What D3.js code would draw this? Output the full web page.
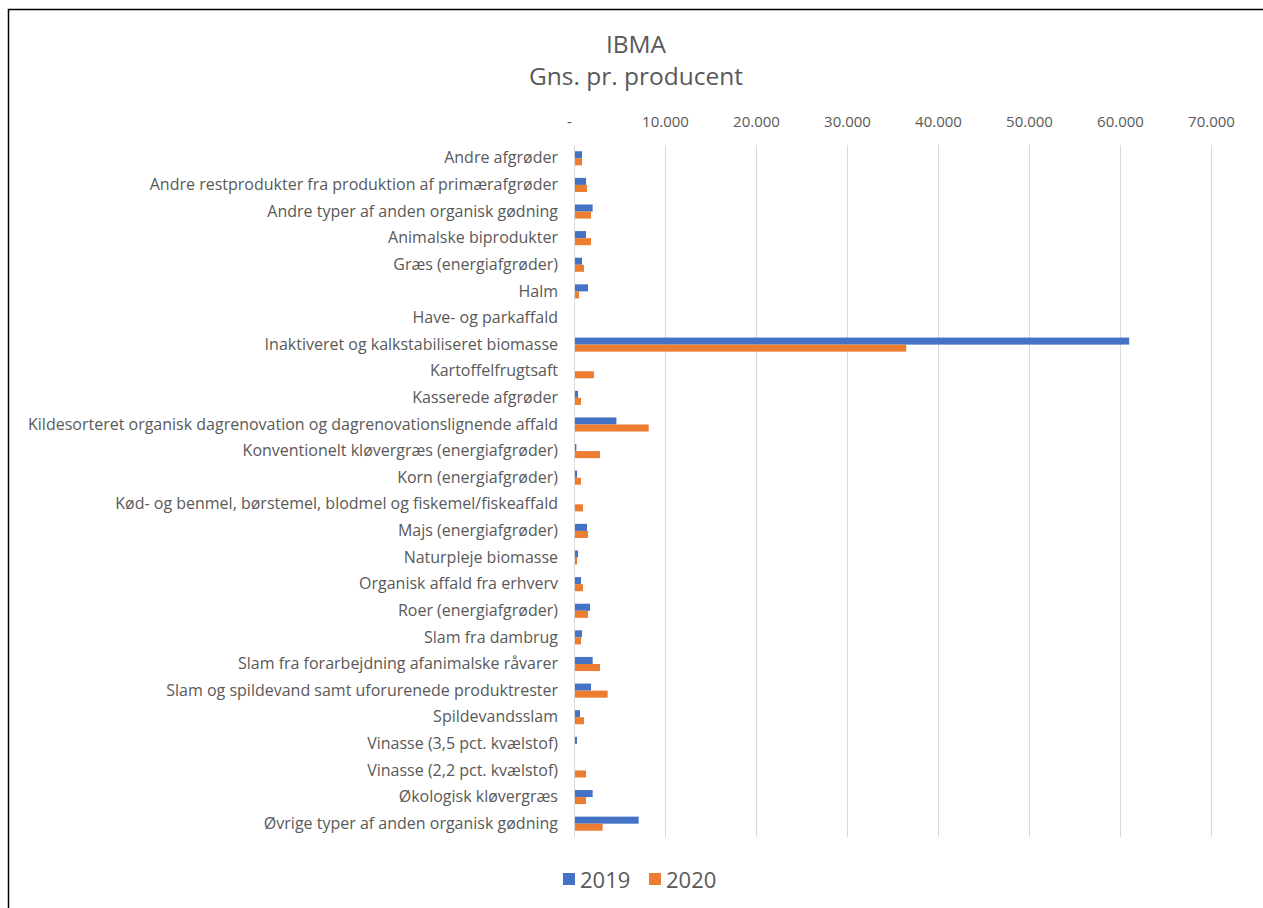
<!DOCTYPE html>
<html>
<head>
<meta charset="utf-8">
<script src="https://cdn.jsdelivr.net/npm/d3@7"></script>
<style>
body { margin: 0; background: #fff; }
text { font-family: "Open Sans", sans-serif; fill: #595959; }
</style>
</head>
<body>
<svg id="chart" width="1263" height="908"></svg>
<script>
// categories, top to bottom
var categories = [
	"Andre afgrøder",
	"Andre restprodukter fra produktion af primærafgrøder",
	"Andre typer af anden organisk gødning",
	"Animalske biprodukter",
	"Græs (energiafgrøder)",
	"Halm",
	"Have- og parkaffald",
	"Inaktiveret og kalkstabiliseret biomasse",
	"Kartoffelfrugtsaft",
	"Kasserede afgrøder",
	"Kildesorteret organisk dagrenovation og dagrenovationslignende affald",
	"Konventionelt kløvergræs (energiafgrøder)",
	"Korn (energiafgrøder)",
	"Kød- og benmel, børstemel, blodmel og fiskemel/fiskeaffald",
	"Majs (energiafgrøder)",
	"Naturpleje biomasse",
	"Organisk affald fra erhverv",
	"Roer (energiafgrøder)",
	"Slam fra dambrug",
	"Slam fra forarbejdning afanimalske råvarer",
	"Slam og spildevand samt uforurenede produktrester",
	"Spildevandsslam",
	"Vinasse (3,5 pct. kvælstof)",
	"Vinasse (2,2 pct. kvælstof)",
	"Økologisk kløvergræs",
	"Øvrige typer af anden organisk gødning"
];
var values2019 = [770, 1210, 1940, 1210, 770, 1430, 0, 60900, 0, 330, 4550, 150, 220, 0, 1320,
	330, 660, 1650, 770, 1940, 1760, 550, 220, 0, 1940, 7000];
var values2020 = [770, 1320, 1760, 1760, 990, 440, 0, 36400, 2090, 660, 8100, 2750, 660, 880, 1430,
	220, 880, 1430, 660, 2750, 3590, 990, 0, 1210, 1210, 3040];
var years = ["2019", "2020"];
var colors = ["#4472C4", "#ED7D31"];
var tickValues = [0, 10000, 20000, 30000, 40000, 50000, 60000, 70000];
var tickLabels = ["-", "10.000", "20.000", "30.000", "40.000", "50.000", "60.000", "70.000"];

var svg = d3.select("#chart");

// frame
svg.append("path")
	.attr("d", "M8.5,908 L8.5,9.5 L1263,9.5")
	.attr("fill", "none")
	.attr("stroke", "#000")
	.attr("stroke-width", 1.5);

// title
svg.append("text").attr("x", 636).attr("y", 53).attr("text-anchor", "middle")
	.style("font-size", "24.5px").text("IBMA");
svg.append("text").attr("x", 636).attr("y", 85).attr("text-anchor", "middle")
	.style("font-size", "24.5px").text("Gns. pr. producent");

var plotLeft = 574, plotRight = 1211, plotTop = 145, plotBottom = 837;

var x = d3.scaleLinear().domain([0, 70000]).range([plotLeft, plotRight]);
var y = d3.scaleBand().domain(categories).range([plotTop, plotBottom]).paddingInner(0.47).paddingOuter(0.235);
var y1 = d3.scaleBand().domain(years).range([0, y.bandwidth()]);

// gridlines
svg.append("g").selectAll("line")
	.data(tickValues)
	.join("line")
	.attr("x1", function(d) { return Math.round(x(d)) + 0.5; })
	.attr("x2", function(d) { return Math.round(x(d)) + 0.5; })
	.attr("y1", plotTop)
	.attr("y2", plotBottom)
	.attr("stroke", "#d9d9d9")
	.attr("stroke-width", 1);

// top axis labels
var xAxis = svg.append("g")
	.attr("transform", "translate(0,127)")
	.call(d3.axisTop(x).tickValues(tickValues).tickSize(0).tickPadding(0)
		.tickFormat(function(d, i) { return tickLabels[i]; }));
xAxis.select(".domain").remove();
xAxis.selectAll("text").style("font-size", "15px").style("font-family", "\"Open Sans\", sans-serif").attr("fill", "#595959");
xAxis.selectAll(".tick").filter(function(d) { return d === 0; }).select("text").attr("dx", -5);

// category labels
var yAxis = svg.append("g")
	.attr("transform", "translate(" + (plotLeft - 16) + ",0)")
	.call(d3.axisLeft(y).tickSize(0).tickPadding(0));
yAxis.select(".domain").remove();
yAxis.selectAll("text").style("font-size", "16px").style("font-family", "\"Open Sans\", sans-serif").attr("fill", "#595959");

// bars
var rows = categories.map(function(c, i) { return { cat: c, vals: [values2019[i], values2020[i]] }; });
var groups = svg.append("g").selectAll("g")
	.data(rows)
	.join("g")
	.attr("transform", function(d) { return "translate(0," + y(d.cat) + ")"; });
groups.selectAll("rect")
	.data(function(d) { return d.vals.map(function(v, j) { return { year: years[j], v: v, c: colors[j] }; }); })
	.join("rect")
	.attr("x", x(0) + 1)
	.attr("y", function(d) { return y1(d.year); })
	.attr("width", function(d) { return Math.max(0, x(d.v) - x(0)); })
	.attr("height", y1.bandwidth())
	.attr("fill", function(d) { return d.c; });

// legend
var legend = svg.append("g").attr("transform", "translate(563,880)");
var legendX = [0, 86];
years.forEach(function(yr, i) {
	legend.append("rect").attr("x", legendX[i]).attr("y", -7).attr("width", 12).attr("height", 12).attr("fill", colors[i]);
	legend.append("text").attr("x", legendX[i] + 17).attr("y", 8)
		.style("font-size", "22px").text(yr);
});
</script>
</body>
</html>
